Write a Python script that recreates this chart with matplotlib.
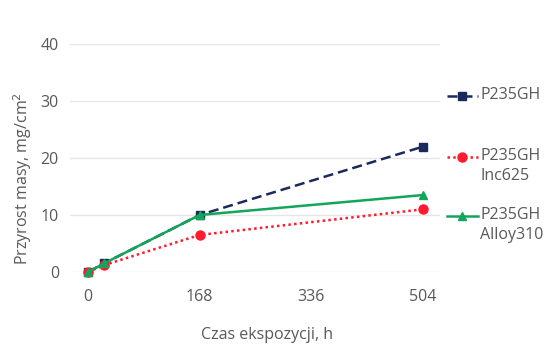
import matplotlib
matplotlib.use("Agg")
import matplotlib.pyplot as plt
from matplotlib.lines import Line2D

# Exposure time (h) and mass gain (mg/cm^2)
hours = [0, 24, 168, 504]
p235gh = [0, 1.5, 10, 22]
p235gh_inc625 = [0, 1.2, 6.5, 11]
p235gh_alloy310 = [0, 1.5, 10, 13.5]

series_labels = ["P235GH", "P235GH\nInc625", "P235GH\nAlloy310"]
x_ticks = [0, 168, 336, 504]
y_ticks = [0, 10, 20, 30, 40]

plt.rcParams["font.family"] = ["Open Sans", "DejaVu Sans"]
text_color = "#595959"
fs = 11.5

W, H = 553, 347
fig = plt.figure(figsize=(W / 100, H / 100), dpi=100)
fig.patch.set_facecolor("white")

# axes placed so that x=0 -> 88px, x=504 -> 423px; y=0 -> 272px, y=40 -> 44px
ax_left_px, ax_right_px = 70, 440
ax_w_px, ax_h_px = ax_right_px - ax_left_px, 272 - 44
ax = fig.add_axes([ax_left_px / W, (H - 272) / H, ax_w_px / W, ax_h_px / H])
ppu = (423 - 88) / 504
ax.set_xlim(0 - (88 - ax_left_px) / ppu, 504 + (ax_right_px - 423) / ppu)
ax.set_ylim(0, 40)

styles = [
    dict(color="#1B2A5C", linestyle=(0, (4, 2)), marker="s", markersize=6, linewidth=1.8),
    dict(color="#FF1A2E", linestyle=(0, (1, 1.3)), marker="o", markersize=6.5, linewidth=1.8),
    dict(color="#13A55A", linestyle="-", marker="^", markersize=6, linewidth=1.8),
]
data = [p235gh, p235gh_inc625, p235gh_alloy310]
for vals, st in zip(data, styles):
    ax.plot(hours, vals, clip_on=False, zorder=3, **st)

ax.set_xticks(x_ticks)
ax.set_yticks(y_ticks)
ax.yaxis.grid(True, color="#E6E6E6", linewidth=1)
ax.set_axisbelow(True)
for s in ax.spines.values():
    s.set_visible(False)
ax.tick_params(length=0, labelsize=fs, colors=text_color, pad=8)
ax.tick_params(axis="x", pad=12)

ax.set_xlabel("Czas ekspozycji, h", fontsize=fs, color=text_color, va="center")
ax.set_ylabel("Przyrost masy, mg/cm$^2$", fontsize=fs, color=text_color, va="center")
ax.xaxis.set_label_coords((267 - ax_left_px) / ax_w_px, (272 - 335) / ax_h_px)
ax.yaxis.set_label_coords((23 - ax_left_px) / ax_w_px, (272 - 179) / ax_h_px)

# legend drawn at the right side, handle aligned with first line of each label
legend_y_px = [96, 157, 216]
for lab, st, ypx in zip(series_labels, styles, legend_y_px):
    yf = (H - ypx) / H
    fig.add_artist(Line2D([447 / W, 478 / W], [yf, yf], transform=fig.transFigure,
                          color=st["color"], linestyle=st["linestyle"], linewidth=st["linewidth"]))
    fig.add_artist(Line2D([462 / W], [yf], transform=fig.transFigure, color=st["color"],
                          marker=st["marker"], markersize=st["markersize"], linestyle="none"))
    fig.text(480 / W, (H - ypx + 9) / H, lab, fontsize=fs, color=text_color,
             ha="left", va="top", linespacing=1.35)

fig.savefig("out.png", dpi=100)
